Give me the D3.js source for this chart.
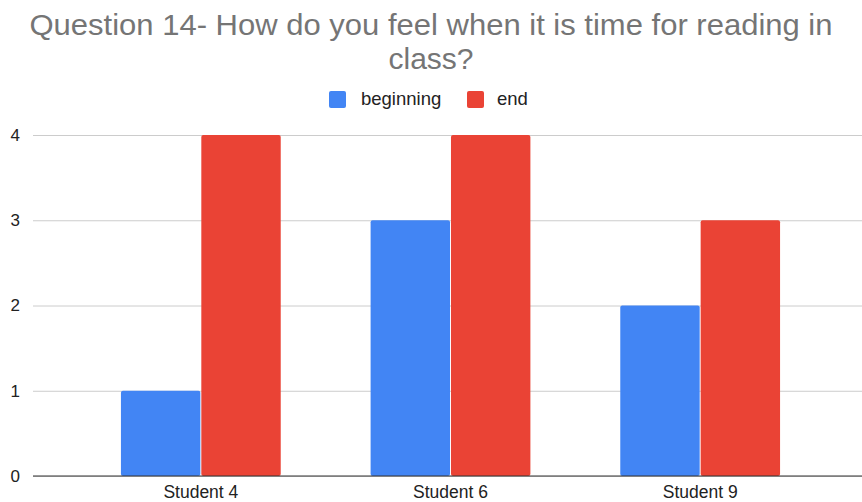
<!DOCTYPE html>
<html>
<head>
<meta charset="utf-8">
<script src="https://cdn.jsdelivr.net/npm/d3@7"></script>
<style>
  html, body { margin: 0; padding: 0; background: #fff; }
  svg { display: block; font-family: "Liberation Sans", Arial, Helvetica, sans-serif; }
</style>
</head>
<body>
<svg id="chart" width="862" height="502"></svg>
<script>
const titleLines = ["Question 14- How do you feel when it is time for reading in", "class?"];
const categories = ["Student 4", "Student 6", "Student 9"];
const seriesNames = ["beginning", "end"];
const beginningValues = [1, 3, 2];
const endValues = [4, 4, 3];
const yTicks = [0, 1, 2, 3, 4];
const colors = ["#4285f4", "#ea4335"];

const svg = d3.select("#chart");
const plot = { left: 33, right: 862, top: 135, bottom: 476 };

// Title, two lines
const titleY = [35, 69];
titleLines.forEach((t, i) => {
  const el = svg.append("text")
    .attr("x", 431).attr("y", titleY[i])
    .attr("text-anchor", "middle")
    .attr("fill", "#757575")
    .attr("font-size", 30)
    .text(t);
  if (i === 0) el.attr("textLength", 803).attr("lengthAdjust", "spacingAndGlyphs");
});

// Scales
const y = d3.scaleLinear().domain([0, 4]).range([plot.bottom, plot.top]);
const x0 = d3.scaleBand().domain(categories).range([76, 825])
  .paddingInner(0.36).paddingOuter(0.18);
const x1 = d3.scaleBand().domain(seriesNames).range([0, x0.bandwidth()]).paddingInner(0.012);

// Gridlines
const grid = svg.append("g")
  .attr("transform", `translate(${plot.left},0)`)
  .call(d3.axisRight(y).tickValues(yTicks).tickSize(plot.right - plot.left).tickFormat(""));
grid.select(".domain").remove();
grid.selectAll(".tick line").attr("stroke", "#cccccc").attr("stroke-width", 1);

// Y tick labels
const yAxis = svg.append("g")
  .attr("transform", `translate(${plot.left},0)`)
  .call(d3.axisLeft(y).tickValues(yTicks).tickSize(0).tickPadding(13).tickFormat(d3.format("d")));
yAxis.select(".domain").remove();
yAxis.selectAll("text")
  .attr("font-size", 17)
  .attr("fill", "#222")
  .attr("font-family", "\"Liberation Sans\", Arial, sans-serif");

// Bars
const rows = categories.map((c, i) => ({ cat: c, vals: [beginningValues[i], endValues[i]] }));
const groups = svg.append("g").selectAll("g").data(rows).join("g")
  .attr("transform", d => `translate(${x0(d.cat)},0)`);
groups.selectAll("rect")
  .data(d => d.vals.map((v, j) => ({ key: seriesNames[j], v, j })))
  .join("rect")
  .attr("x", d => x1(d.key))
  .attr("width", x1.bandwidth())
  .attr("y", d => y(d.v))
  .attr("height", d => y(0) - y(d.v))
  .attr("rx", 2)
  .attr("fill", d => colors[d.j]);

// Baseline
svg.append("line")
  .attr("x1", plot.left).attr("x2", plot.right)
  .attr("y1", y(0)).attr("y2", y(0))
  .attr("stroke", "#333").attr("stroke-width", 1.2);

// X axis labels
const xAxis = svg.append("g")
  .attr("transform", `translate(0,${plot.bottom})`)
  .call(d3.axisBottom(x0).tickSize(0).tickPadding(5));
xAxis.select(".domain").remove();
xAxis.selectAll("text")
  .attr("font-size", 17.5)
  .attr("fill", "#222")
  .attr("dy", "0.95em")
  .attr("font-family", "\"Liberation Sans\", Arial, sans-serif");

// Legend
const legendItems = [
  { name: seriesNames[0], color: colors[0], x: 329, tx: 361 },
  { name: seriesNames[1], color: colors[1], x: 467, tx: 497 }
];
const legend = svg.append("g");
legendItems.forEach(it => {
  legend.append("rect").attr("x", it.x).attr("y", 91).attr("width", 17).attr("height", 17)
    .attr("rx", 2).attr("fill", it.color);
  legend.append("text").attr("x", it.tx).attr("y", 105)
    .attr("font-size", 18.5).attr("fill", "#222").text(it.name);
});
</script>
</body>
</html>
